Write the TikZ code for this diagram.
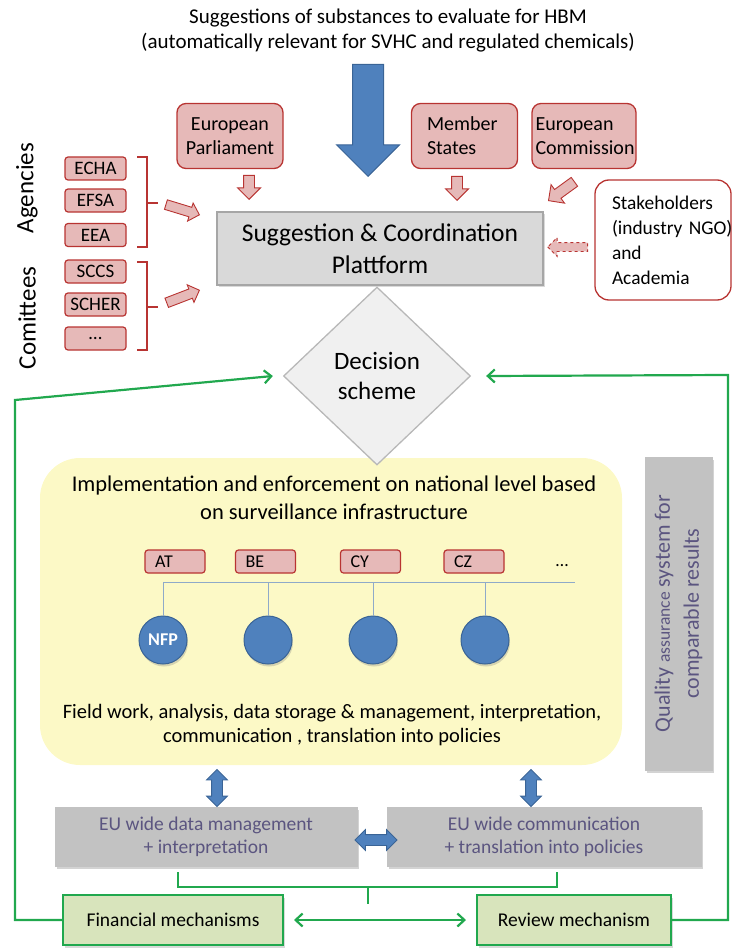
\documentclass[tikz,border=0pt]{standalone}
\usepackage{fontspec}
\setmainfont{Carlito}
\usetikzlibrary{arrows.meta,positioning,shapes.geometric,shapes.arrows,shadows}
\definecolor{HbmRed}{HTML}{B83432}
\definecolor{HbmPink}{HTML}{E6B9B8}
\definecolor{HbmBlue}{HTML}{4F81BD}
\definecolor{HbmBlueDark}{HTML}{3A6496}
\definecolor{HbmGrey}{HTML}{D9D9D9}
\definecolor{HbmGreyDark}{HTML}{A6A6A6}
\definecolor{HbmMid}{HTML}{C2C2C2}
\definecolor{HbmYellow}{HTML}{FCF9C6}
\definecolor{HbmGreen}{HTML}{21A84E}
\definecolor{HbmLime}{HTML}{D8E4BC}
\definecolor{HbmText}{HTML}{5B5580}
\definecolor{HbmLine}{HTML}{8FAAC9}
\newcommand{\fs}[2]{\fontsize{#1}{#2}\selectfont}

\begin{document}
\begin{tikzpicture}[x=1pt,y=-1pt,>={Straight Barb[length=7pt,width=13pt]},
 every node/.style={inner sep=0pt},
 actor/.style={draw=HbmRed,fill=HbmPink,rounded corners=9pt,line width=1.3pt,
  minimum width=106pt,minimum height=65pt,font=\fs{20}{24}},
 small/.style={draw=HbmRed,fill=HbmPink,rounded corners=3pt,line width=1.2pt,
  minimum width=61pt,minimum height=23pt,font=\fs{19}{20}},
 pinkarrow/.style={single arrow,draw=HbmRed,fill=HbmPink,line width=0.9pt,
  inner ysep=5pt,single arrow head extend=6pt,minimum height=24pt},
 greybox/.style={draw=HbmMid,fill=HbmMid,minimum height=59pt,text=HbmText,
  font=\fs{19.5}{23},align=center,
  drop shadow={shadow xshift=1.5pt,shadow yshift=-2.5pt,opacity=0.35}},
 greenbox/.style={draw=HbmGreen,fill=HbmLime,line width=2pt,minimum height=50pt,
  font=\fs{19.5}{20},
  drop shadow={shadow xshift=1.5pt,shadow yshift=-2.5pt,opacity=0.3}},
 greenline/.style={draw=HbmGreen,line width=2.2pt},
 bluearrow/.style={double arrow,draw=HbmBlueDark,fill=HbmBlue,line width=0.8pt,
  inner ysep=5pt,double arrow head extend=5pt}]
\useasboundingbox (0,0) rectangle (733,952);

% top input
\node[font=\fs{21}{25},align=center] (top) at (388,31)
 {Suggestions of substances to evaluate for HBM\\
  (automatically relevant for SVHC and regulated chemicals)};
\node[single arrow,draw=HbmBlueDark,fill=HbmBlue,line width=1pt,rotate=-90,
 inner ysep=15pt,single arrow head extend=16pt,minimum height=112pt,
 anchor=tip] (input) at (368,177) {};

% actors
\node[actor,align=center] (ep) at (230,136) {European\\Parliament};
\node[actor,align=left,text width=75pt] (ms) at (464.5,136) {Member\\States};
\node[actor,align=left,text width=97pt,minimum width=104pt] (ec) at (584,136)
 {European\\Commission};
\node[draw=HbmRed,fill=white,rounded corners=14pt,line width=1.3pt,
 minimum width=136pt,minimum height=120pt,text width=102pt,align=left,
 font=\fs{19.4}{25}] (stake) at (663,240)
 {Stakeholders\\(industry~NGO)\\and\\Academia};

% platform
\node[draw=HbmGreyDark,fill=HbmGrey,line width=1.5pt,minimum width=326pt,
 minimum height=73pt,align=center,font=\fs{25.5}{32},
 drop shadow={shadow xshift=1.5pt,shadow yshift=-2pt,opacity=0.3}] (plat)
 at (380,248.5) {Suggestion \& Coordination\\Plattform};

\node[pinkarrow,rotate=-90,anchor=tip] (eparr) at (249,200) {};
\node[pinkarrow,rotate=-90,anchor=tip] (msarr) at (457,201) {};
\node[pinkarrow,rotate=-144,anchor=tip,minimum height=32pt] (ecarr) at (548,201) {};
\node[pinkarrow,rotate=180,anchor=tip,dashed,minimum height=40pt,
 inner ysep=4pt,single arrow head extend=5pt] (starr) at (547,247) {};

% agencies and committees
\node[rotate=90,font=\fs{25}{28}] (agen) at (27,188) {Agencies};
\node[rotate=90,font=\fs{25}{28}] (comi) at (27,318) {Comittees};
\foreach \y/\n/\t in {168.5/echa/ECHA,200.5/efsa/EFSA,235/eea/EEA,
 271.5/sccs/SCCS,304.5/scher/SCHER,338.5/more/{\ldots}}
 \node[small] (\n) at (95.5,\y) {\t};
\draw[HbmRed,line width=1.8pt] (137,157) -- (147,157) -- (147,247) -- (137,247)
 (147,203) -- (158,203);
\draw[HbmRed,line width=1.8pt] (137,262) -- (147,262) -- (147,350) -- (137,350)
 (147,307) -- (158,307);
\node[pinkarrow,rotate=-17,anchor=tip,minimum height=35pt,inner ysep=4.5pt,
 single arrow head extend=4.5pt] (agarr) at (200,215) {};
\node[pinkarrow,rotate=21,anchor=tip,minimum height=35pt,inner ysep=4.5pt,
 single arrow head extend=4.5pt] (coarr) at (200,290) {};

% national level
\node[fill=HbmYellow,rounded corners=40pt,minimum width=582pt,
 minimum height=307pt] (impl) at (331,611.5) {};
\node[diamond,draw=HbmGreyDark!80,fill=black!6,line width=1.3pt,
 minimum width=187pt,minimum height=178pt,align=center,font=\fs{25}{30}]
 (dec) at (377,376) {Decision\\scheme};
\node[font=\fs{22.5}{28},align=center] (impltxt) at (334,498)
 {Implementation and enforcement on national level based\\
  on surveillance infrastructure};
\coordinate (busend) at (575,582);
\foreach \cx/\bx/\t [count=\i] in {163/175/AT,268/265.5/BE,373/370.5/CY,485/474/CZ}{
 \node[small,font=\fs{18}{20},minimum width=60pt,text width=40pt,align=left]
  (k\i) at (\bx,561.5) {\t};
 \node[circle,fill=HbmBlue,draw=HbmBlueDark,line width=1pt,minimum size=48pt,
  drop shadow={shadow xshift=1pt,shadow yshift=-2.5pt,opacity=0.3}]
  (c\i) at (\cx,640) {};
}
\node[font=\fs{18}{20}\bfseries,text=white] at (c1) {NFP};
\node[font=\fs{18}{20}] (dots) at (562,566) {\ldots};
\draw[HbmLine,line width=1pt] (c1.north) |- (busend);
\foreach \i in {2,3,4}
 \draw[HbmLine,line width=1pt] (c\i.north) -- (c\i.north |- busend);
\node[font=\fs{20.5}{24},align=center] (field) at (332,725)
 {Field work, analysis, data storage \& management, interpretation,\\
  communication , translation into policies};

% quality assurance
\node[greybox,minimum width=313pt,minimum height=67pt,rotate=90,font=\fs{22}{29}]
 (qual) at (678.5,613.5)
 {Quality {\fs{17.5}{29}assurance} system for\\comparable results};

% EU wide level
\node[greybox,minimum width=302pt] (eudata) at (206,836.5)
 {EU wide data management\\+ interpretation};
\node[greybox,minimum width=314pt] (eucomm) at (544,836.5)
 {EU wide communication\\+ translation into policies};
\node[bluearrow,rotate=90,minimum height=37pt] (darr1) at (217,788) {};
\node[bluearrow,rotate=90,minimum height=37pt] (darr2) at (531,788) {};
\node[bluearrow,minimum height=42pt] (darr3) at (376,840) {};
\draw[HbmGreen,line width=1.8pt] (178,872) |- (557,887) -- (557,872)
 (368,887) -- (368,904);

% mechanisms and feedback
\node[greenbox,minimum width=220pt] (fin) at (173,920) {Financial mechanisms};
\node[greenbox,minimum width=194pt] (rev) at (574,920) {Review mechanism};
\coordinate (lcorner) at (15,400);
\coordinate (rcorner) at (728,375);
\draw[greenline,->] (fin.west) -- (fin.west -| lcorner) -- (lcorner)
 -- ([xshift=-10pt]dec.west);
\draw[greenline,->] (rev.east) -| (rcorner) -- ([xshift=15pt]dec.east);
\draw[greenline,<->] ([xshift=10pt]fin.east) -- ([xshift=-10pt]rev.west);
\end{tikzpicture}
\end{document}
